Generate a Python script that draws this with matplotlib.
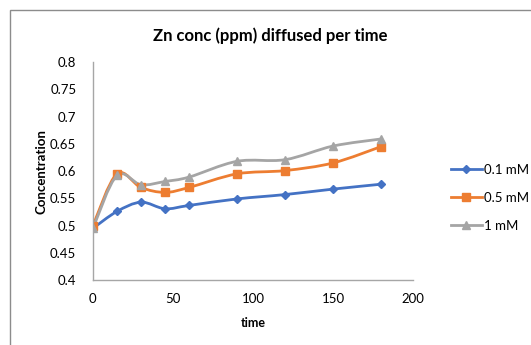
import numpy as np
import matplotlib.pyplot as plt
from matplotlib.path import Path
from matplotlib.patches import PathPatch, Rectangle
from matplotlib.lines import Line2D

plt.rcParams['font.family'] = ['Lato', 'DejaVu Sans']

time = [0, 15, 30, 45, 60, 90, 120, 150, 180]
c01 = [0.495, 0.526, 0.543, 0.531, 0.537, 0.549, 0.557, 0.567, 0.576]
c05 = [0.500, 0.595, 0.570, 0.561, 0.570, 0.595, 0.601, 0.615, 0.645]
c1 = [0.495, 0.592, 0.575, 0.581, 0.589, 0.618, 0.621, 0.646, 0.659]
labels = ['0.1 mM', '0.5 mM', '1 mM']
colors = ['#4472C4', '#ED7D31', '#A5A5A5']
markers = ['D', 's', '^']
msizes = [4, 6, 6]


def smooth_path(x, y):
    # Excel style smoothed line: cubic bezier segments (catmull-rom like)
    pts = np.column_stack([x, y]).astype(float)
    n = len(pts)
    verts = [pts[0]]
    codes = [Path.MOVETO]
    for i in range(n - 1):
        p0 = pts[i - 1] if i > 0 else pts[i]
        p1 = pts[i]
        p2 = pts[i + 1]
        p3 = pts[i + 2] if i + 2 < n else pts[i + 1]
        c1_ = p1 + (p2 - p0) / 6.0
        c2_ = p2 - (p3 - p1) / 6.0
        verts += [c1_, c2_, p2]
        codes += [Path.CURVE4] * 3
    return Path(verts, codes)


fig = plt.figure(figsize=(5.31, 3.45), dpi=100)
ax = fig.add_axes([0.175, 0.188, 0.603, 0.632])

handles = []
for ys, lab, col, mk, ms in zip([c01, c05, c1], labels, colors, markers, msizes):
    patch = PathPatch(smooth_path(time, ys), facecolor='none', edgecolor=col,
                      lw=2.0, transform=ax.transData, capstyle='round')
    ax.add_patch(patch)
    ax.plot(time, ys, linestyle='none', marker=mk, color=col, markersize=ms)
    handles.append(Line2D([], [], color=col, lw=2.0, marker=mk, markersize=ms))

ax.set_xlim(0, 200)
ax.set_ylim(0.4, 0.8)
ax.set_xticks([0, 50, 100, 150, 200])
ax.set_yticks([0.4, 0.45, 0.5, 0.55, 0.6, 0.65, 0.7, 0.75, 0.8])
ax.set_yticklabels(['0.4', '0.45', '0.5', '0.55', '0.6', '0.65', '0.7', '0.75', '0.8'])
ax.tick_params(length=0, labelsize=9.5, pad=12)
ax.tick_params(axis='x', pad=9)
for s in ['top', 'right']:
    ax.spines[s].set_visible(False)
for s in ['left', 'bottom']:
    ax.spines[s].set_color('#A6A6A6')
    ax.spines[s].set_linewidth(1.0)

ax.set_title('Zn conc (ppm) diffused per time', fontsize=12, fontweight='bold',
             pad=15, x=0.555)
ax.set_xlabel('time', fontsize=9, fontweight='bold', labelpad=9)
ax.set_ylabel('Concentration', fontsize=9.5, fontweight='bold', labelpad=2)

ax.legend(handles, labels, loc='center left', bbox_to_anchor=(1.08, 0.378),
          frameon=False, fontsize=9.5, handlelength=2.4, handletextpad=0.1,
          labelspacing=1.2)

fig.patches.append(Rectangle((10 / 531, -0.1), 1.1, 1 - 10 / 345 + 0.1,
                             transform=fig.transFigure, fill=False,
                             edgecolor='#8C8C8C', lw=1.0))

fig.savefig('out.png', dpi=100)
